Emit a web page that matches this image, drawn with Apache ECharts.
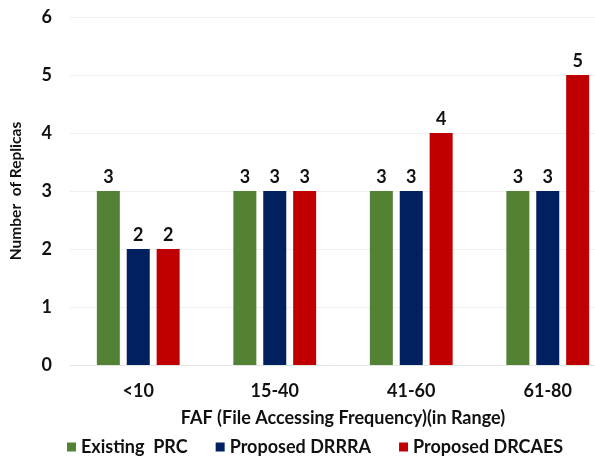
<!DOCTYPE html>
<html>
<head>
<meta charset="utf-8">
<script src="https://cdn.jsdelivr.net/npm/echarts@6/dist/echarts.min.js"></script>
<style>
  html, body { margin: 0; padding: 0; background: #fff; }
  #chart { width: 595px; height: 457px; }
</style>
</head>
<body>
<div id="chart"></div>
<script>
// Replica counts per file-access-frequency range
const categories = ['<10', '15-40', '41-60', '61-80'];
const existingPRC = [3, 3, 3, 3];
const proposedDRRRA = [2, 3, 3, 3];
const proposedDRCAES = [2, 3, 4, 5];
const seriesNames = ['Existing  PRC', 'Proposed DRRRA', 'Proposed DRCAES'];
const seriesColors = ['#548235', '#002060', '#C00000'];
const yTicks = [0, 1, 2, 3, 4, 5, 6];

const FONT = 'Lato';
const TEXT = '#111';
const chart = echarts.init(document.getElementById('chart'), null, { renderer: 'canvas' });

const values = [existingPRC, proposedDRRRA, proposedDRCAES];
const series = values.map((arr, i) => ({
  name: seriesNames[i],
  type: 'bar',
  data: arr,
  barWidth: 23,
  barGap: '30%',
  itemStyle: { color: seriesColors[i] },
  label: {
    show: true,
    position: 'top',
    distance: 5,
    color: TEXT,
    fontFamily: FONT,
    fontWeight: 'bold',
    fontSize: 18
  }
}));

chart.setOption({
  animation: false,
  grid: { left: 70, right: -21, top: 17, bottom: 92, outerBoundsMode: 'none', containLabel: false },
  legend: {
    top: 433,
    left: 62,
    icon: 'rect',
    itemWidth: 9,
    itemHeight: 9,
    itemGap: 28,
    textStyle: { fontFamily: FONT, fontWeight: 'bold', fontSize: 18, color: TEXT },
    data: seriesNames
  },
  xAxis: {
    type: 'category',
    data: categories,
    name: 'FAF (File Accessing Frequency)(in Range)',
    nameLocation: 'middle',
    nameGap: 44,
    nameTextStyle: { fontFamily: FONT, fontWeight: 'bold', fontSize: 18, color: TEXT },
    axisLine: { lineStyle: { color: '#e4e4e4', width: 1 } },
    axisTick: { show: false },
    axisLabel: { fontFamily: FONT, fontWeight: 'bold', fontSize: 18, color: TEXT, margin: 17 }
  },
  yAxis: {
    type: 'value',
    min: yTicks[0],
    max: yTicks[yTicks.length - 1],
    interval: 1,
    name: 'Number  of Replicas',
    nameLocation: 'middle',
    nameGap: 46,
    nameTextStyle: { fontFamily: FONT, fontWeight: 'bold', fontSize: 15.5, color: TEXT },
    axisLine: { show: false },
    axisTick: { show: false },
    splitLine: { lineStyle: { color: '#efefef', width: 1 } },
    axisLabel: { fontFamily: FONT, fontWeight: 'bold', fontSize: 18, color: TEXT, margin: 18 }
  },
  series: series
});
</script>
</body>
</html>
